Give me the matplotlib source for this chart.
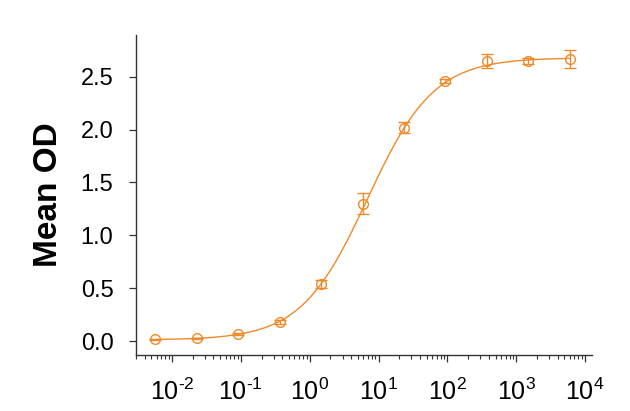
import matplotlib

matplotlib.use("Agg")
import matplotlib.pyplot as plt
import numpy as np
from matplotlib.ticker import FuncFormatter, LogLocator, NullFormatter

# 4-fold dilution series
conc = [0.00572, 0.0229, 0.0916, 0.366, 1.46, 5.86, 23.4, 93.75, 375, 1500, 6000]
mean_od = [0.015, 0.025, 0.066, 0.18, 0.54, 1.30, 2.02, 2.46, 2.65, 2.65, 2.67]
sd_od = [0.005, 0.006, 0.008, 0.02, 0.04, 0.10, 0.05, 0.02, 0.07, 0.03, 0.085]

# 4PL fit parameters
fit_bottom = 0.01
fit_top = 2.68
fit_ec50 = 6.9
fit_hill = 0.9

color = "#EE8A2A"

plt.rcParams["font.family"] = ["Liberation Sans", "DejaVu Sans"]
plt.rcParams["mathtext.fontset"] = "custom"
plt.rcParams["mathtext.rm"] = "Liberation Sans"
plt.rcParams["mathtext.it"] = "Liberation Sans:italic"
plt.rcParams["mathtext.bf"] = "Liberation Sans:bold"

fig = plt.figure(figsize=(6.3, 4.11), dpi=100)
ax = fig.add_axes([135.7 / 630, 56 / 411, (592 - 135.7) / 630, (355 - 35) / 411])

xs = np.logspace(np.log10(conc[0]), np.log10(conc[-1]), 400)
ys = fit_bottom + (fit_top - fit_bottom) / (1 + (fit_ec50 / xs) ** fit_hill)
ax.plot(xs, ys, color=color, lw=1.0)
ax.errorbar(conc, mean_od, yerr=sd_od, fmt="o", mfc="none", mec=color, ms=7,
            mew=1.0, ecolor=color, elinewidth=1.0, capsize=4.5, capthick=1.0)

ax.set_xscale("log")
ax.set_xlim(10 ** -2.527, 10 ** 4.10)
ax.set_ylim(-0.132, 2.895)
ax.set_yticks([0.0, 0.5, 1.0, 1.5, 2.0, 2.5])
ax.set_yticklabels(["0.0", "0.5", "1.0", "1.5", "2.0", "2.5"])
ax.xaxis.set_major_locator(LogLocator(base=10, numticks=10))
ax.xaxis.set_major_formatter(
    FuncFormatter(lambda v, pos: r"$\mathregular{10^{\text{%d}}}$" % round(np.log10(v))))
ax.xaxis.set_minor_locator(LogLocator(base=10, subs=np.arange(2, 10), numticks=100))
ax.xaxis.set_minor_formatter(NullFormatter())

for side in ["top", "right"]:
    ax.spines[side].set_visible(False)
for side in ["left", "bottom"]:
    ax.spines[side].set_color("#333333")
    ax.spines[side].set_linewidth(1.0)

ax.tick_params(axis="y", which="major", length=5, width=0.9, color="#333333",
               labelsize=17, pad=11)
ax.tick_params(axis="x", which="major", length=5, width=0.9, color="#333333",
               labelsize=18, pad=12)
ax.tick_params(axis="x", which="minor", length=3, width=0.8, color="#333333")

ax.set_ylabel("Mean OD", fontsize=24, fontweight="bold", labelpad=12)

fig.savefig("out.png", dpi=100)
